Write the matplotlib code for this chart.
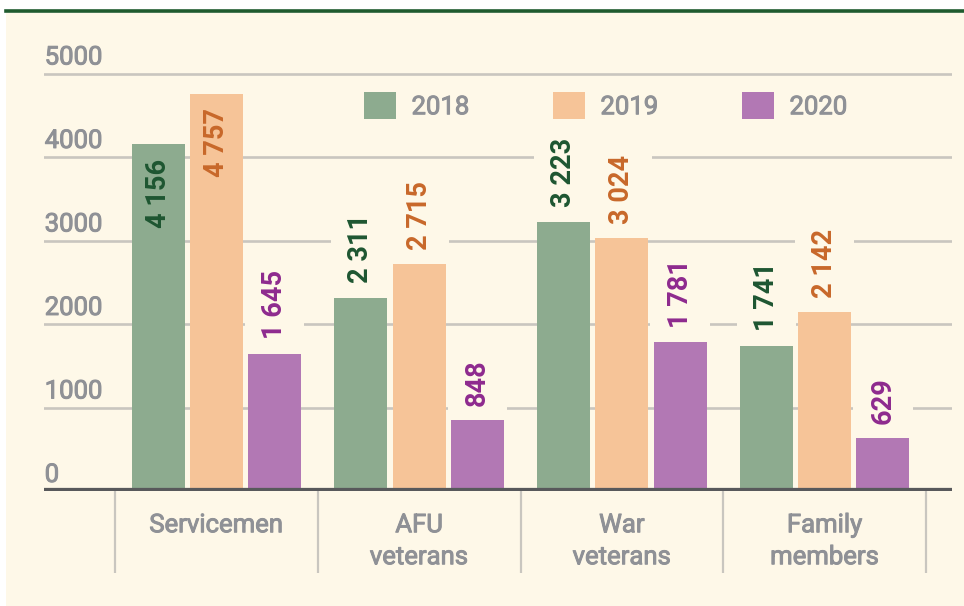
import numpy as np
import matplotlib
matplotlib.use("Agg")
import matplotlib.pyplot as plt
import matplotlib.patheffects as pe
from matplotlib.patches import Patch, Rectangle

plt.rcParams['font.family'] = ['Roboto', 'DejaVu Sans']

# data
categories = ["Servicemen", "AFU\nveterans", "War\nveterans", "Family\nmembers"]
years = ["2018", "2019", "2020"]
values_2018 = [4156, 2311, 3223, 1741]
values_2019 = [4757, 2715, 3024, 2142]
values_2020 = [1645, 848, 1781, 629]
y_ticks = [0, 1000, 2000, 3000, 4000, 5000]

series = [values_2018, values_2019, values_2020]
bar_colors = ["#8DAB8F", "#F6C498", "#B278B4"]
label_colors = ["#1E5631", "#C8682A", "#8E2A8E"]
cream = "#FEF8E8"
gray_text = "#8F9196"
grid_col = "#C9C6BF"
# roboto medium isn't installed, thicken the regular face a little
medium = [pe.withStroke(linewidth=0.7, foreground=gray_text)]

W, H = 964, 606
fig = plt.figure(figsize=(W / 100, H / 100), dpi=100, facecolor="white")

# cream panel + dark green top rule
fig.patches.append(Rectangle((6 / W, 0), 1, 1 - 13 / H, transform=fig.transFigure,
                             facecolor=cream, edgecolor="none", zorder=-10))
fig.add_artist(plt.Line2D([6 / W, 1], [1 - 11 / H, 1 - 11 / H], transform=fig.transFigure,
                          color="#1F5B2E", lw=2.6, zorder=-5))

# axes: zero at y=491px, 83.5px per 1000
left_px, right_px, base_px, top_px = 44, 952, 491, 20
ax = fig.add_axes([left_px / W, 1 - base_px / H, (right_px - left_px) / W, (base_px - top_px) / H])
ax.set_zorder(1)
ax.set_facecolor("none")
ax.set_ylim(0, (base_px - top_px) / 83.5 * 1000)
ax.set_xlim(-0.85, 3.628)
for s in ax.spines.values():
    s.set_visible(False)

# gridlines and y labels
for v in y_ticks[1:]:
    ax.axhline(v, color=grid_col, lw=1.9, zorder=1)
for v in y_ticks:
    ax.annotate(str(v), xy=(-0.85, v), xytext=(0.5, 6.5), textcoords="offset points",
                ha="left", va="baseline", fontsize=18.5, color=gray_text, path_effects=medium)

x = np.arange(len(categories))
offset = 0.287
width = 0.262
for i, vals in enumerate(series):
    xs = x + (i - 1) * offset
    ax.bar(xs, vals, width=width, color=bar_colors[i], zorder=3, label=years[i])
    for xi, v in zip(xs, vals):
        txt = f"{v // 1000} {v % 1000:03d}" if v >= 1000 else str(v)
        if v > 4000:
            ax.annotate(txt, xy=(xi, v), xytext=(0, -10.5), textcoords="offset points",
                        rotation=90, ha="center", va="top", fontsize=19.5,
                        fontweight="bold", color=label_colors[i], zorder=4)
        else:
            ax.annotate(txt, xy=(xi, v), xytext=(0, 10.5), textcoords="offset points",
                        rotation=90, ha="center", va="bottom", fontsize=19.5,
                        fontweight="bold", color=label_colors[i], zorder=2,
                        bbox=dict(boxstyle="square,pad=0.6", facecolor=cream, edgecolor="none"))

# baseline
ax.axhline(0, color="#58595B", lw=4.5, zorder=5)

# x axis labels and separators
ax.set_yticks([])
ax.set_xticks(x)
ax.set_xticklabels(categories, fontsize=18.5, color=gray_text, linespacing=1.42)
for t in ax.get_xticklabels():
    t.set_path_effects(medium)
ax.tick_params(axis="x", which="major", length=0, pad=16)
ax.set_xticks(np.arange(-0.5, len(categories)), minor=True)
ax.tick_params(axis="x", which="minor", length=59, width=1.6, color=grid_col, direction="out")

# legend
handles = [Patch(facecolor=c, edgecolor="none") for c in bar_colors]
leg = ax.legend(handles, years, loc="upper left", bbox_to_anchor=(364 / W, 1 - 92 / H),
                bbox_transform=fig.transFigure, ncol=3, frameon=False, fontsize=18.5,
                handlelength=1.25, handleheight=1.25, handletextpad=0.6, columnspacing=3.25,
                borderpad=0, borderaxespad=0)
for t in leg.get_texts():
    t.set_color(gray_text)
    t.set_path_effects(medium)

fig.savefig("out.png", dpi=100, facecolor="white")
